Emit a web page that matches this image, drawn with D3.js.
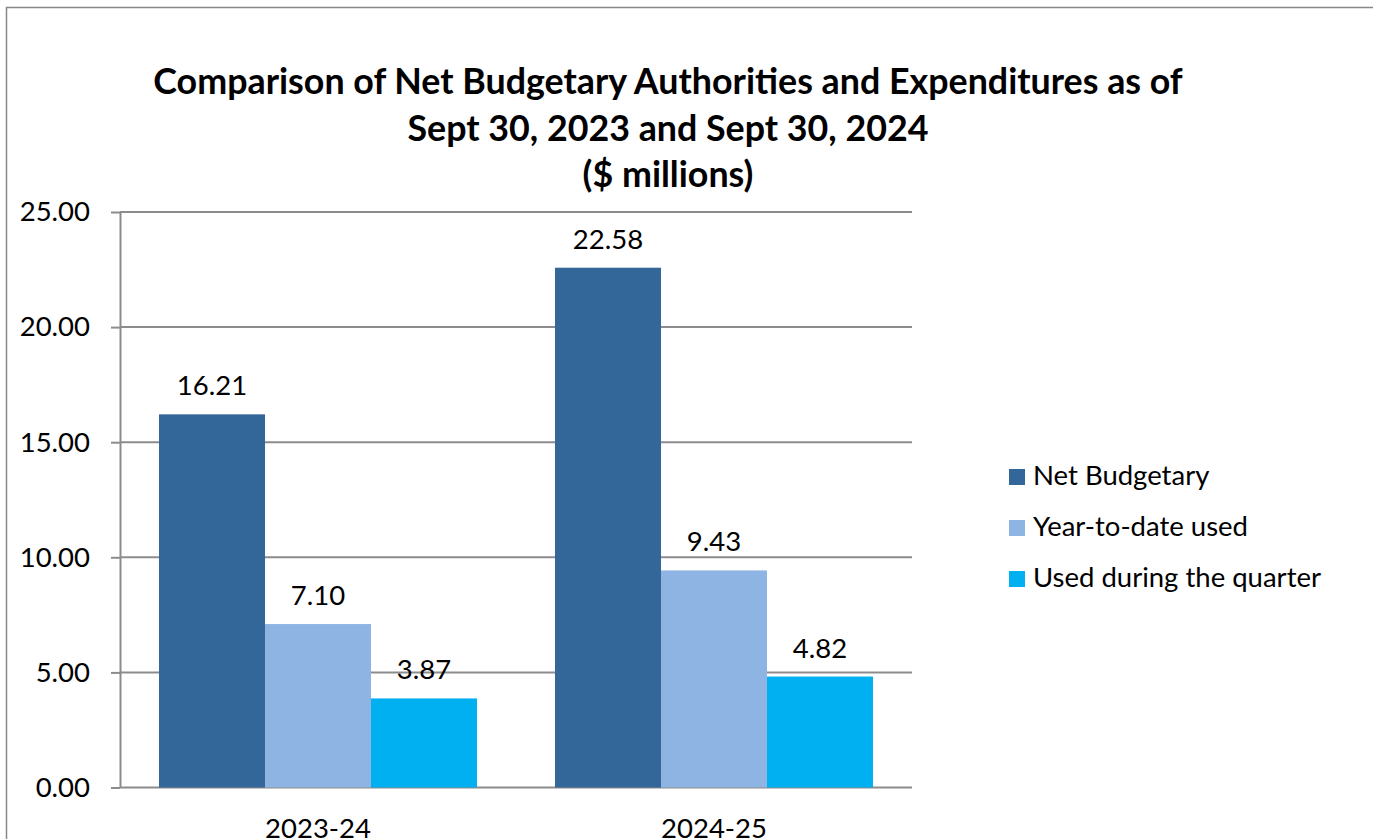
<!DOCTYPE html>
<html lang="en">
<head>
  <meta charset="UTF-8">
  <title>Net Budgetary Authorities and Expenditures</title>
  <script src="https://d3js.org/d3.v7.min.js"></script>
  <style>
    body {
      margin: 0;
      padding: 0;
      background-color: #fff;
      font-family: Lato, "Open Sans", sans-serif;
    }
    svg { display: block; }
  </style>
</head>
<body>
  <svg id="chart"></svg>

  <script>
    // Chart data ($ millions)
    const categories = ["2023-24", "2024-25"];
    const seriesNames = ["Net Budgetary", "Year-to-date used", "Used during the quarter"];
    const netBudgetary = [16.21, 22.58];
    const yearToDateUsed = [7.10, 9.43];
    const usedDuringQuarter = [3.87, 4.82];
    const yTicks = [0, 5, 10, 15, 20, 25];
    const titleLines = [
      "Comparison of Net Budgetary Authorities and Expenditures as of",
      "Sept 30, 2023 and Sept 30, 2024",
      "($ millions)"
    ];

    const seriesValues = [netBudgetary, yearToDateUsed, usedDuringQuarter];
    const colors = ["#336699", "#8EB4E3", "#00B0F0"];
    const fontSize = 27.5;

    const width = 1373, height = 839;
    const svg = d3.select("#chart")
                  .attr("width", width)
                  .attr("height", height);

    // outer chart-area border (runs off the right and bottom edges)
    svg.append("rect")
      .attr("x", 6.5).attr("y", 7.5)
      .attr("width", width + 20).attr("height", height + 20)
      .attr("fill", "none")
      .attr("stroke", "#888")
      .attr("stroke-width", 1.5);

    // plot area
    const plot = { left: 120, right: 912, top: 212, bottom: 787.5 };

    const x = d3.scaleBand()
                .domain(categories)
                .range([plot.left, plot.right])
                .paddingInner(0.197)
                .paddingOuter(0.0985);

    const xSeries = d3.scaleBand()
                      .domain(seriesNames)
                      .range([0, x.bandwidth()]);

    const y = d3.scaleLinear()
                .domain([0, 25])
                .range([plot.bottom, plot.top]);

    // horizontal gridlines
    svg.append("g")
      .selectAll("line")
      .data(yTicks)
      .join("line")
      .attr("x1", plot.left)
      .attr("x2", plot.right)
      .attr("y1", d => y(d))
      .attr("y2", d => y(d))
      .attr("stroke", "#8c8c8c")
      .attr("stroke-width", 2);

    // y axis with tick labels
    const yAxis = svg.append("g")
      .attr("transform", `translate(${plot.left},0)`)
      .call(d3.axisLeft(y)
              .tickValues(yTicks)
              .tickFormat(d3.format(".2f"))
              .tickSize(9)
              .tickSizeOuter(0)
              .tickPadding(21));
    yAxis.select(".domain").attr("stroke", "#8c8c8c").attr("stroke-width", 2);
    yAxis.selectAll(".tick line").attr("stroke", "#8c8c8c").attr("stroke-width", 2);
    yAxis.selectAll(".tick text")
      .attr("font-family", "Lato, sans-serif")
      .attr("font-size", fontSize)
      .attr("fill", "#000");

    // bars
    const rows = [];
    categories.forEach((cat, i) => {
      seriesNames.forEach((s, j) => {
        rows.push({ cat: cat, series: s, value: seriesValues[j][i], color: colors[j] });
      });
    });

    svg.append("g")
      .selectAll("rect")
      .data(rows)
      .join("rect")
      .attr("x", d => x(d.cat) + xSeries(d.series))
      .attr("y", d => y(d.value))
      .attr("width", xSeries.bandwidth())
      .attr("height", d => y(0) - y(d.value))
      .attr("fill", d => d.color);

    // value labels
    svg.append("g")
      .selectAll("text")
      .data(rows)
      .join("text")
      .attr("x", d => x(d.cat) + xSeries(d.series) + xSeries.bandwidth() / 2)
      .attr("y", d => y(d.value) - 19)
      .attr("text-anchor", "middle")
      .attr("font-size", fontSize)
      .attr("fill", "#000")
      .text(d => d3.format(".2f")(d.value));

    // category labels
    const xAxis = svg.append("g")
      .attr("transform", `translate(0,${plot.bottom})`)
      .call(d3.axisBottom(x).tickSize(0).tickPadding(0));
    xAxis.select(".domain").remove();
    xAxis.selectAll(".tick text")
      .attr("y", 50.5)
      .attr("dy", null)
      .attr("font-family", "Lato, sans-serif")
      .attr("font-size", fontSize)
      .attr("fill", "#000");

    // title
    svg.append("g")
      .selectAll("text")
      .data(titleLines)
      .join("text")
      .attr("x", 668)
      .attr("y", (d, i) => 94 + i * 46.5)
      .attr("text-anchor", "middle")
      .attr("font-size", 35.8)
      .attr("font-weight", "bold")
      .attr("fill", "#000")
      .text(d => d);

    // legend
    const legend = svg.append("g")
      .attr("transform", "translate(1009,469)")
      .selectAll("g")
      .data(seriesNames)
      .join("g")
      .attr("transform", (d, i) => `translate(0,${i * 51})`);

    legend.append("rect")
      .attr("width", 16)
      .attr("height", 16)
      .attr("fill", (d, i) => colors[i]);

    legend.append("text")
      .attr("x", 24)
      .attr("y", 16)
      .attr("font-size", fontSize)
      .attr("fill", "#000")
      .text(d => d);
  </script>
</body>
</html>
